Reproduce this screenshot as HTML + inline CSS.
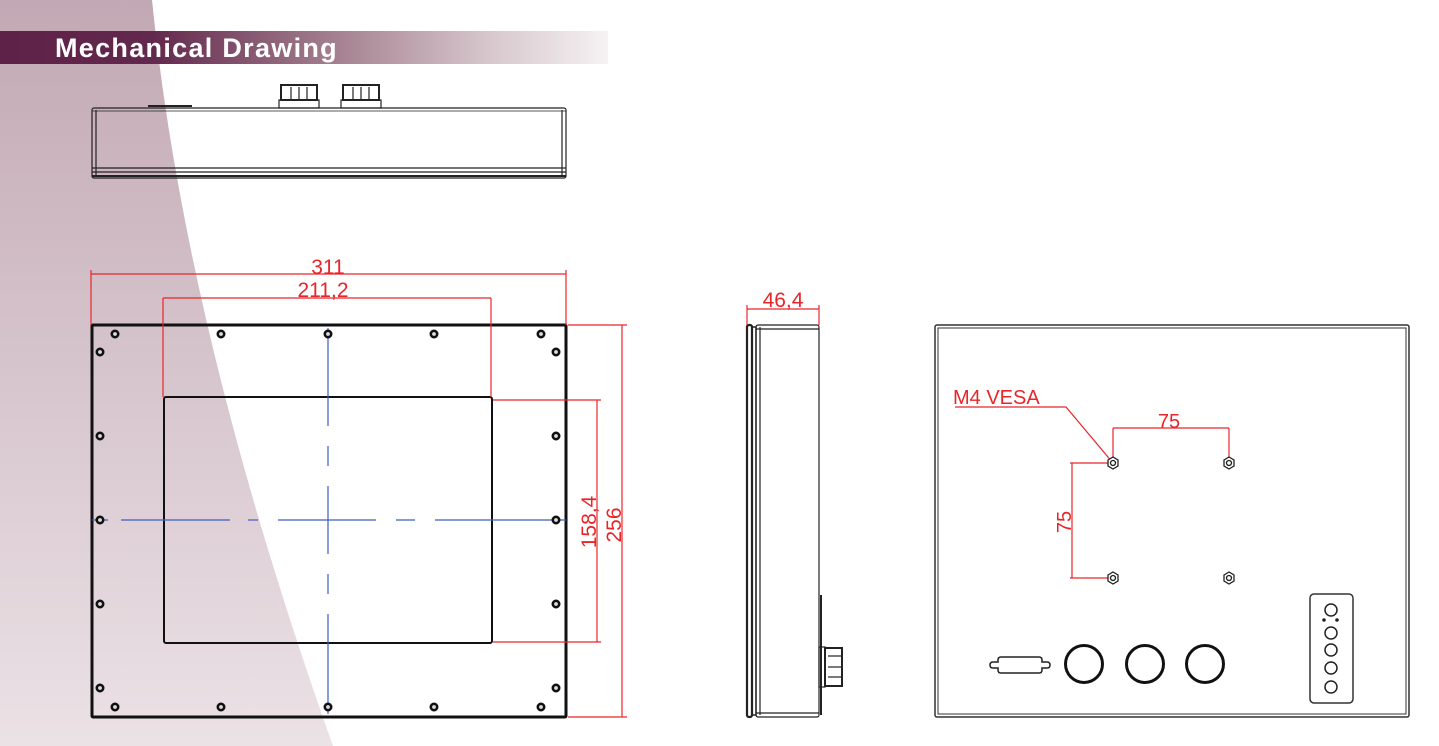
<!DOCTYPE html>
<html><head><meta charset="utf-8"><style>
html,body{margin:0;padding:0;background:#fff;width:1439px;height:746px;overflow:hidden}
svg{display:block}
</style></head><body>
<svg width="1439" height="746" viewBox="0 0 1439 746" xmlns="http://www.w3.org/2000/svg" font-family="Liberation Sans, sans-serif">
<defs>
<linearGradient id="bg" x1="0" y1="0" x2="0" y2="1">
<stop offset="0" stop-color="#c2a8b3"/><stop offset="1" stop-color="#ebe2e6"/>
</linearGradient>
<linearGradient id="hb" x1="0" y1="0" x2="1" y2="0">
<stop offset="0" stop-color="#5e2148"/><stop offset="0.25" stop-color="#63284d"/>
<stop offset="0.55" stop-color="#a4808f"/><stop offset="0.8" stop-color="#d6c6cc"/><stop offset="1" stop-color="#f6f2f3"/>
</linearGradient>
</defs>
<path d="M0,0 L152,0 Q185,330 333,746 L0,746 Z" fill="url(#bg)"/>
<rect x="0" y="31" width="608" height="33" fill="url(#hb)"/>
<text x="55" y="57" font-size="27" font-weight="bold" fill="#fff" letter-spacing="1.3">Mechanical Drawing</text>

<!-- top view -->
<g fill="none" stroke="#222" stroke-width="1.2">
<rect x="92" y="108" width="474" height="70" rx="2"/>
<line x1="96" y1="110" x2="96" y2="176"/><line x1="562" y1="110" x2="562" y2="176"/>
<line x1="92" y1="111" x2="566" y2="111" stroke-width="0.8"/>
<line x1="92" y1="168" x2="566" y2="168"/>
<line x1="92" y1="172" x2="566" y2="172"/>
<line x1="92" y1="176" x2="566" y2="176" stroke-width="2"/>
<line x1="148" y1="106" x2="192" y2="106" stroke-width="2"/>
<rect x="279" y="100" width="40" height="8"/><rect x="281" y="85" width="36" height="15" stroke-width="2"/>
<line x1="291" y1="87" x2="291" y2="99"/><line x1="299" y1="87" x2="299" y2="99"/><line x1="307" y1="87" x2="307" y2="99"/>
<rect x="341" y="100" width="40" height="8"/><rect x="343" y="85" width="36" height="15" stroke-width="2"/>
<line x1="353" y1="87" x2="353" y2="99"/><line x1="361" y1="87" x2="361" y2="99"/><line x1="369" y1="87" x2="369" y2="99"/>
</g>

<!-- front view -->
<rect x="92" y="325" width="474" height="392" fill="none" stroke="#111" stroke-width="3" rx="1"/>
<rect x="164" y="397" width="328" height="246" fill="none" stroke="#111" stroke-width="2" rx="2"/>
<g stroke="#3a5fc0" stroke-width="1.2">
<line x1="328" y1="328" x2="328" y2="426"/>
<line x1="328" y1="446" x2="328" y2="466"/><line x1="328" y1="486" x2="328" y2="554"/>
<line x1="328" y1="574" x2="328" y2="594"/><line x1="328" y1="614" x2="328" y2="714"/>
<line x1="92" y1="520" x2="108" y2="520"/><line x1="121" y1="520" x2="230" y2="520"/>
<line x1="248" y1="520" x2="258" y2="520"/><line x1="278" y1="520" x2="376" y2="520"/>
<line x1="396" y1="520" x2="415" y2="520"/><line x1="435" y1="520" x2="566" y2="520"/>
</g>
<g fill="#ddd" stroke="#111" stroke-width="2.6">
<circle cx="115" cy="334" r="3.2"/><circle cx="221" cy="334" r="3.2"/><circle cx="328" cy="334" r="3.2"/><circle cx="434" cy="334" r="3.2"/><circle cx="541" cy="334" r="3.2"/>
<circle cx="115" cy="707" r="3.2"/><circle cx="221" cy="707" r="3.2"/><circle cx="328" cy="707" r="3.2"/><circle cx="434" cy="707" r="3.2"/><circle cx="541" cy="707" r="3.2"/>
<circle cx="100" cy="352" r="3.2"/><circle cx="100" cy="436" r="3.2"/><circle cx="100" cy="520" r="3.2"/><circle cx="100" cy="604" r="3.2"/><circle cx="100" cy="688" r="3.2"/>
<circle cx="556" cy="352" r="3.2"/><circle cx="556" cy="436" r="3.2"/><circle cx="556" cy="520" r="3.2"/><circle cx="556" cy="604" r="3.2"/><circle cx="556" cy="688" r="3.2"/>
</g>
<g stroke="#e8262a" stroke-width="1.2" fill="none">
<line x1="91" y1="274" x2="566" y2="274"/><line x1="91" y1="270" x2="91" y2="325"/><line x1="566" y1="270" x2="566" y2="325"/>
<line x1="163" y1="298" x2="491" y2="298"/><line x1="163" y1="298" x2="163" y2="397"/><line x1="491" y1="298" x2="491" y2="397"/>
<line x1="568" y1="325" x2="627" y2="325"/><line x1="568" y1="717" x2="627" y2="717"/><line x1="622" y1="325" x2="622" y2="717"/>
<line x1="493" y1="400" x2="601" y2="400"/><line x1="493" y1="642" x2="601" y2="642"/><line x1="597" y1="400" x2="597" y2="642"/>
</g>
<g fill="#e8262a" font-size="21">
<text x="328" y="274" text-anchor="middle">311</text>
<text x="323" y="297" text-anchor="middle">211,2</text>
<text transform="translate(596,522) rotate(-90)" text-anchor="middle">158,4</text>
<text transform="translate(621,525) rotate(-90)" text-anchor="middle">256</text>
</g>

<!-- side view -->
<g fill="none" stroke="#222" stroke-width="1.2">
<rect x="747" y="325" width="5" height="392" rx="2" stroke-width="2.2"/>
<rect x="752" y="327" width="4" height="388" stroke-width="1.5"/>
<rect x="756" y="325" width="63" height="392" rx="2"/>
<line x1="760" y1="327" x2="760" y2="715"/>
<line x1="756" y1="329" x2="819" y2="329"/><line x1="756" y1="713" x2="819" y2="713"/>
<line x1="821" y1="595" x2="821" y2="715" stroke-width="2"/>
<rect x="819" y="647" width="6" height="40"/>
<rect x="825" y="648" width="17" height="38" stroke-width="2"/>
<line x1="828" y1="656" x2="842" y2="656"/><line x1="828" y1="667" x2="842" y2="667"/><line x1="828" y1="677" x2="842" y2="677"/>
</g>
<g stroke="#e8262a" stroke-width="1.2">
<line x1="747" y1="309" x2="819" y2="309"/><line x1="747" y1="305" x2="747" y2="325"/><line x1="819" y1="305" x2="819" y2="325"/>
</g>
<text x="783" y="307" font-size="21" fill="#e8262a" text-anchor="middle">46,4</text>

<!-- back view -->
<g fill="none" stroke="#333">
<rect x="935" y="325" width="474" height="392" stroke-width="1.5" rx="2"/>
<rect x="938" y="328" width="468" height="386" stroke-width="1"/>
</g>
<g stroke="#e8262a" stroke-width="1.2" fill="none">
<polyline points="955,407 1066,407 1113,463"/>
<line x1="1113" y1="428" x2="1229" y2="428"/><line x1="1113" y1="428" x2="1113" y2="460"/><line x1="1229" y1="428" x2="1229" y2="460"/>
<line x1="1072" y1="463" x2="1072" y2="578"/><line x1="1070" y1="463" x2="1110" y2="463"/><line x1="1070" y1="578" x2="1110" y2="578"/>
</g>
<g fill="#e8262a" font-size="20">
<text x="953" y="404">M4 VESA</text>
<text x="1169" y="428" text-anchor="middle">75</text>
<text transform="translate(1071,522) rotate(-90)" text-anchor="middle">75</text>
</g>
<g fill="#fff" stroke="#222" stroke-width="1.3">
<g transform="translate(1113,463)"><polygon points="-5,-3 0,-6 5,-3 5,3 0,6 -5,3"/><circle r="2.5"/></g>
<g transform="translate(1229,463)"><polygon points="-5,-3 0,-6 5,-3 5,3 0,6 -5,3"/><circle r="2.5"/></g>
<g transform="translate(1113,578)"><polygon points="-5,-3 0,-6 5,-3 5,3 0,6 -5,3"/><circle r="2.5"/></g>
<g transform="translate(1229,578)"><polygon points="-5,-3 0,-6 5,-3 5,3 0,6 -5,3"/><circle r="2.5"/></g>
</g>
<path d="M1001,657 h38 q3,0 3,3 v2 h5 q3,0 3,3 q0,3 -3,3 h-5 v2 q0,3 -3,3 h-38 q-3,0 -3,-3 v-2 h-5 q-3,0 -3,-3 q0,-3 3,-3 h5 v-2 q0,-3 3,-3 z" fill="none" stroke="#222" stroke-width="1.5"/>
<g fill="none" stroke="#111" stroke-width="3">
<circle cx="1084" cy="664" r="18.5"/><circle cx="1145" cy="664" r="18.5"/><circle cx="1205" cy="664" r="18.5"/>
</g>
<rect x="1310" y="594" width="43" height="109" rx="4" fill="none" stroke="#333" stroke-width="1.5"/>
<g fill="none" stroke="#222" stroke-width="1.5">
<circle cx="1331" cy="610" r="6"/><circle cx="1331" cy="633" r="6"/><circle cx="1331" cy="650" r="6"/><circle cx="1331" cy="668" r="6"/><circle cx="1331" cy="687" r="6"/>
</g>
<circle cx="1324" cy="620" r="1.8" fill="#222"/><circle cx="1337" cy="620" r="1.8" fill="#222"/>
</svg>
</body></html>
